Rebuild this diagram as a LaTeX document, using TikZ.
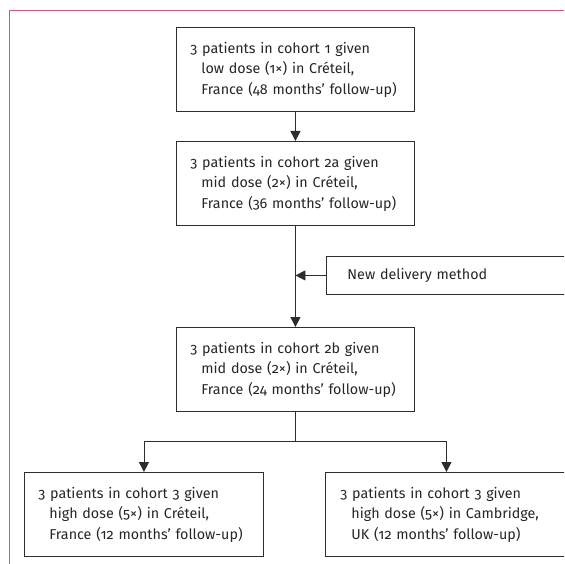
\documentclass[tikz,border=0pt]{standalone}
\usepackage{fontspec}
\setmainfont{Fira Sans}[Numbers=OldStyle]
\usetikzlibrary{arrows.meta}
\definecolor{linegray}{RGB}{45,45,45}
\definecolor{framered}{RGB}{205,90,120}
\newcommand{\oneline}[1]{\mbox{#1}}
\newcommand{\indline}{\hspace*{11pt}}
\begin{document}
\begin{tikzpicture}[x=1pt,y=-1pt,
  box/.style={draw=linegray, line width=0.9pt, anchor=north west,
    minimum height=84pt, text width=#1, align=left, inner xsep=14pt,
    inner ysep=0pt, font=\fontsize{14.3}{20.5}\selectfont, text=black!85},
  arr/.style={draw=linegray, line width=0.9pt, -{Triangle[length=10pt,width=10pt]}},
  conn/.style={draw=linegray, line width=0.9pt}]
\useasboundingbox (0,0) rectangle (564,564);
\clip (0,0) rectangle (564,564);
\draw[framered, line width=1pt] (9,564) -- (9,10.5) -- (564,10.5);
\node[box=210pt] (c1) at (176,27) {\oneline{3 patients in cohort 1 given}\\\indline\oneline{low dose (1×) in Créteil,}\\\indline\oneline{France (48 months’ follow-up)}};
\node[box=210pt] (c2) at (176,141) {\oneline{3 patients in cohort 2a given}\\\indline\oneline{mid dose (2×) in Créteil,}\\\indline\oneline{France (36 months’ follow-up)}};
\node[box=210pt] (c3) at (176,327) {\oneline{3 patients in cohort 2b given}\\\indline\oneline{mid dose (2×) in Créteil,}\\\indline\oneline{France (24 months’ follow-up)}};
\node[box=220pt, minimum height=38pt, inner xsep=21pt] (nd) at (326,256) {New delivery method};
\node[box=211pt] (bl) at (24,472) {\oneline{3 patients in cohort 3 given}\\\indline\oneline{high dose (5×) in Créteil,}\\\indline\oneline{France (12 months’ follow-up)}};
\node[box=212pt, inner xsep=15pt] (br) at (325,472) {\oneline{3 patients in cohort 3 given}\\\indline\oneline{high dose (5×) in Cambridge,}\\\indline\oneline{UK (12 months’ follow-up)}};
\draw[arr] (c1.south) -- (c2.north);
\draw[arr] (c2.south) -- (c3.north);
\draw[arr] (nd.west) -- (nd.west -| c2.south);
\draw[conn] (c3.south) -- ++(0,30) coordinate (sp);
\draw[arr] (sp) -| (bl.north);
\draw[arr] (sp) -| (br.north);
\end{tikzpicture}
\end{document}
